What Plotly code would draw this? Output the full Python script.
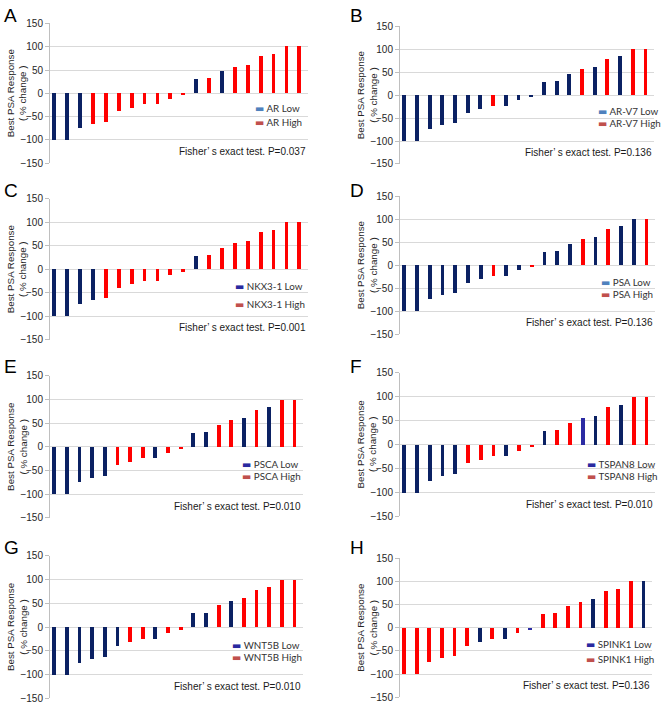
import plotly.graph_objects as go

# ---------------- data ----------------
patients = [f"P{i}" for i in range(1, 21)]
psa_change = [-100, -100, -75, -66, -62, -39, -32, -24, -24, -12,
              -5, 29, 31, 46, 56, 61, 79, 84, 100, 100]

panel_letters = ["A", "B", "C", "D", "E", "F", "G", "H"]
genes = ["AR", "AR-V7", "NKX3-1", "PSA", "PSCA", "TSPAN8", "WNT5B", "SPINK1"]
p_values = ["0.037", "0.136", "0.001", "0.136", "0.010", "0.010", "0.010", "0.136"]
y_title = "Best PSA Response<br>( % change )"

# expression group of each patient per gene: L = low, H = high, l = low (indigo shade)
groups_AR     = list("LLLHHHHHHHHLHLHHHHHH")
groups_ARV7   = list("LLLLLLLHLLLLLLHLHLHH")
groups_NKX31  = list("LLLLHHHHHHHLHHHHHHHH")
groups_PSA    = list("LLLLLLLHLLHLLLHLHLLH")
groups_PSCA   = list("LLLLLHHHLHHLLHHLHLHH")
groups_TSPAN8 = list("LLLLLHHHLHHLHHlLHLHH")
groups_WNT5B  = list("LLLLLLHHLHHLLHLHHHHH")
groups_SPINK1 = list("HHHHHHLHLHlHHHHLHHHL")
all_groups = [groups_AR, groups_ARV7, groups_NKX31, groups_PSA,
              groups_PSCA, groups_TSPAN8, groups_WNT5B, groups_SPINK1]

# ---------------- styles / layout ----------------
W, H = 664, 708
NAVY = "#0B2163"
INDIGO = "#2B2BA3"
RED = "#FF0000"
LEG_HIGH = "#C0504D"
leg_low_colors = ["#4F81BD", "#4F81BD", "#2A2AA0", "#4F81BD",
                  "#2A2AA0", "#2A2AA0", "#2A2AA0", "#2A2AA0"]

# plot-area boxes in pixels: (left, right, top, bottom)
boxes = [
    (50, 308, 17.7, 160.0),
    (400, 654, 20.7, 160.7),
    (50, 308, 196.3, 339.3),
    (400, 655, 193.7, 333.7),
    (50, 303, 376.3, 520.7),
    (400, 655, 373.0, 519.0),
    (50, 303, 559.3, 704.3),
    (400, 652, 561.7, 703.3),
]
letter_pos = [(2, 10), (348, 10), (2, 188), (348, 188),
              (2, 367), (348, 367), (2, 551), (348, 551)]
# legend: x fraction of plot width, y value of "Low" row and "High" row
legend_pos = [(0.787, -32, -61), (0.77, -34, -61), (0.71, -35, -74), (0.78, -36, -63),
              (0.75, -37, -62), (0.725, -40, -65), (0.71, -37, -62), (0.73, -35, -68)]

AXFONT = dict(family="Liberation Sans, Arial", size=10, color="#262626")
TITLEFONT = dict(family="Liberation Sans, Arial", size=9.8, color="#262626")
LEGFONT = dict(family="Lato, DejaVu Sans", size=9.8, color="#333333")

fig = go.Figure()
annotations = []

for i in range(8):
    n = "" if i == 0 else str(i + 1)
    xa, ya = "x" + n, "y" + n
    grp = all_groups[i]
    low_vals = [v if g in "Ll" else None for v, g in zip(psa_change, grp)]
    low_cols = [INDIGO if g == "l" else NAVY for g in grp]
    high_vals = [v if g == "H" else None for v, g in zip(psa_change, grp)]

    fig.add_trace(go.Bar(x=patients, y=low_vals, marker=dict(color=low_cols, line=dict(width=0)),
                         width=0.3, offset=-0.32, xaxis=xa, yaxis=ya, showlegend=False,
                         name=genes[i] + " Low"))
    fig.add_trace(go.Bar(x=patients, y=high_vals, marker=dict(color=RED, line=dict(width=0)),
                         width=0.3, offset=-0.32, xaxis=xa, yaxis=ya, showlegend=False,
                         name=genes[i] + " High"))

    l, r, t, b = boxes[i]
    fig.layout["xaxis" + n] = dict(domain=[l / W, r / W], anchor=ya, showticklabels=False,
                                   showgrid=False, zeroline=False, showline=False, ticks="",
                                   fixedrange=True)
    fig.layout["yaxis" + n] = dict(domain=[1 - b / H, 1 - t / H], anchor=xa,
                                   range=[-150, 150], dtick=50, tick0=0,
                                   showgrid=True, gridcolor="#D9D9D9", gridwidth=1,
                                   zeroline=False, showline=True, linecolor="#BFBFBF",
                                   ticks="outside", ticklen=4, tickcolor="#BFBFBF",
                                   tickfont=AXFONT)

    # y-axis title (two lines, rotated)
    annotations.append(dict(text=y_title, xref=xa + " domain", yref=ya + " domain",
                            x=0, y=0.5, xshift=-33, xanchor="center", yanchor="middle",
                            textangle=-90, showarrow=False, font=TITLEFONT))
    # panel letter
    lx, ly = letter_pos[i]
    annotations.append(dict(text=panel_letters[i], xref="paper", yref="paper",
                            x=lx / W, y=1 - ly / H, xanchor="left", yanchor="middle",
                            showarrow=False, font=dict(family="Liberation Sans, Arial",
                                                       size=19, color="#000000")))
    # Fisher text
    annotations.append(dict(text=f"Fisher’ s exact test. P={p_values[i]}",
                            xref=xa + " domain", yref=ya, x=1.0, y=-125,
                            xanchor="right", yanchor="middle", showarrow=False,
                            font=dict(family="Liberation Sans, Arial", size=10, color="#1a1a1a")))
    # legend entries
    fx, yl, yh = legend_pos[i]
    annotations.append(dict(text=f'<span style="color:{leg_low_colors[i]}">▬</span> {genes[i]} Low',
                            xref=xa + " domain", yref=ya, x=fx, y=yl,
                            xanchor="left", yanchor="middle", showarrow=False, font=LEGFONT))
    annotations.append(dict(text=f'<span style="color:{LEG_HIGH}">▬</span> {genes[i]} High',
                            xref=xa + " domain", yref=ya, x=fx, y=yh,
                            xanchor="left", yanchor="middle", showarrow=False, font=LEGFONT))

fig.update_layout(width=W, height=H, margin=dict(l=0, r=0, t=0, b=0),
                  paper_bgcolor="white", plot_bgcolor="white",
                  barmode="overlay", bargap=0, showlegend=False,
                  annotations=annotations)

fig.write_html("out.html", include_plotlyjs=True, config={"displayModeBar": False},
               post_script="document.body.style.margin='0px';"
                           "document.body.style.overflow='hidden';")
